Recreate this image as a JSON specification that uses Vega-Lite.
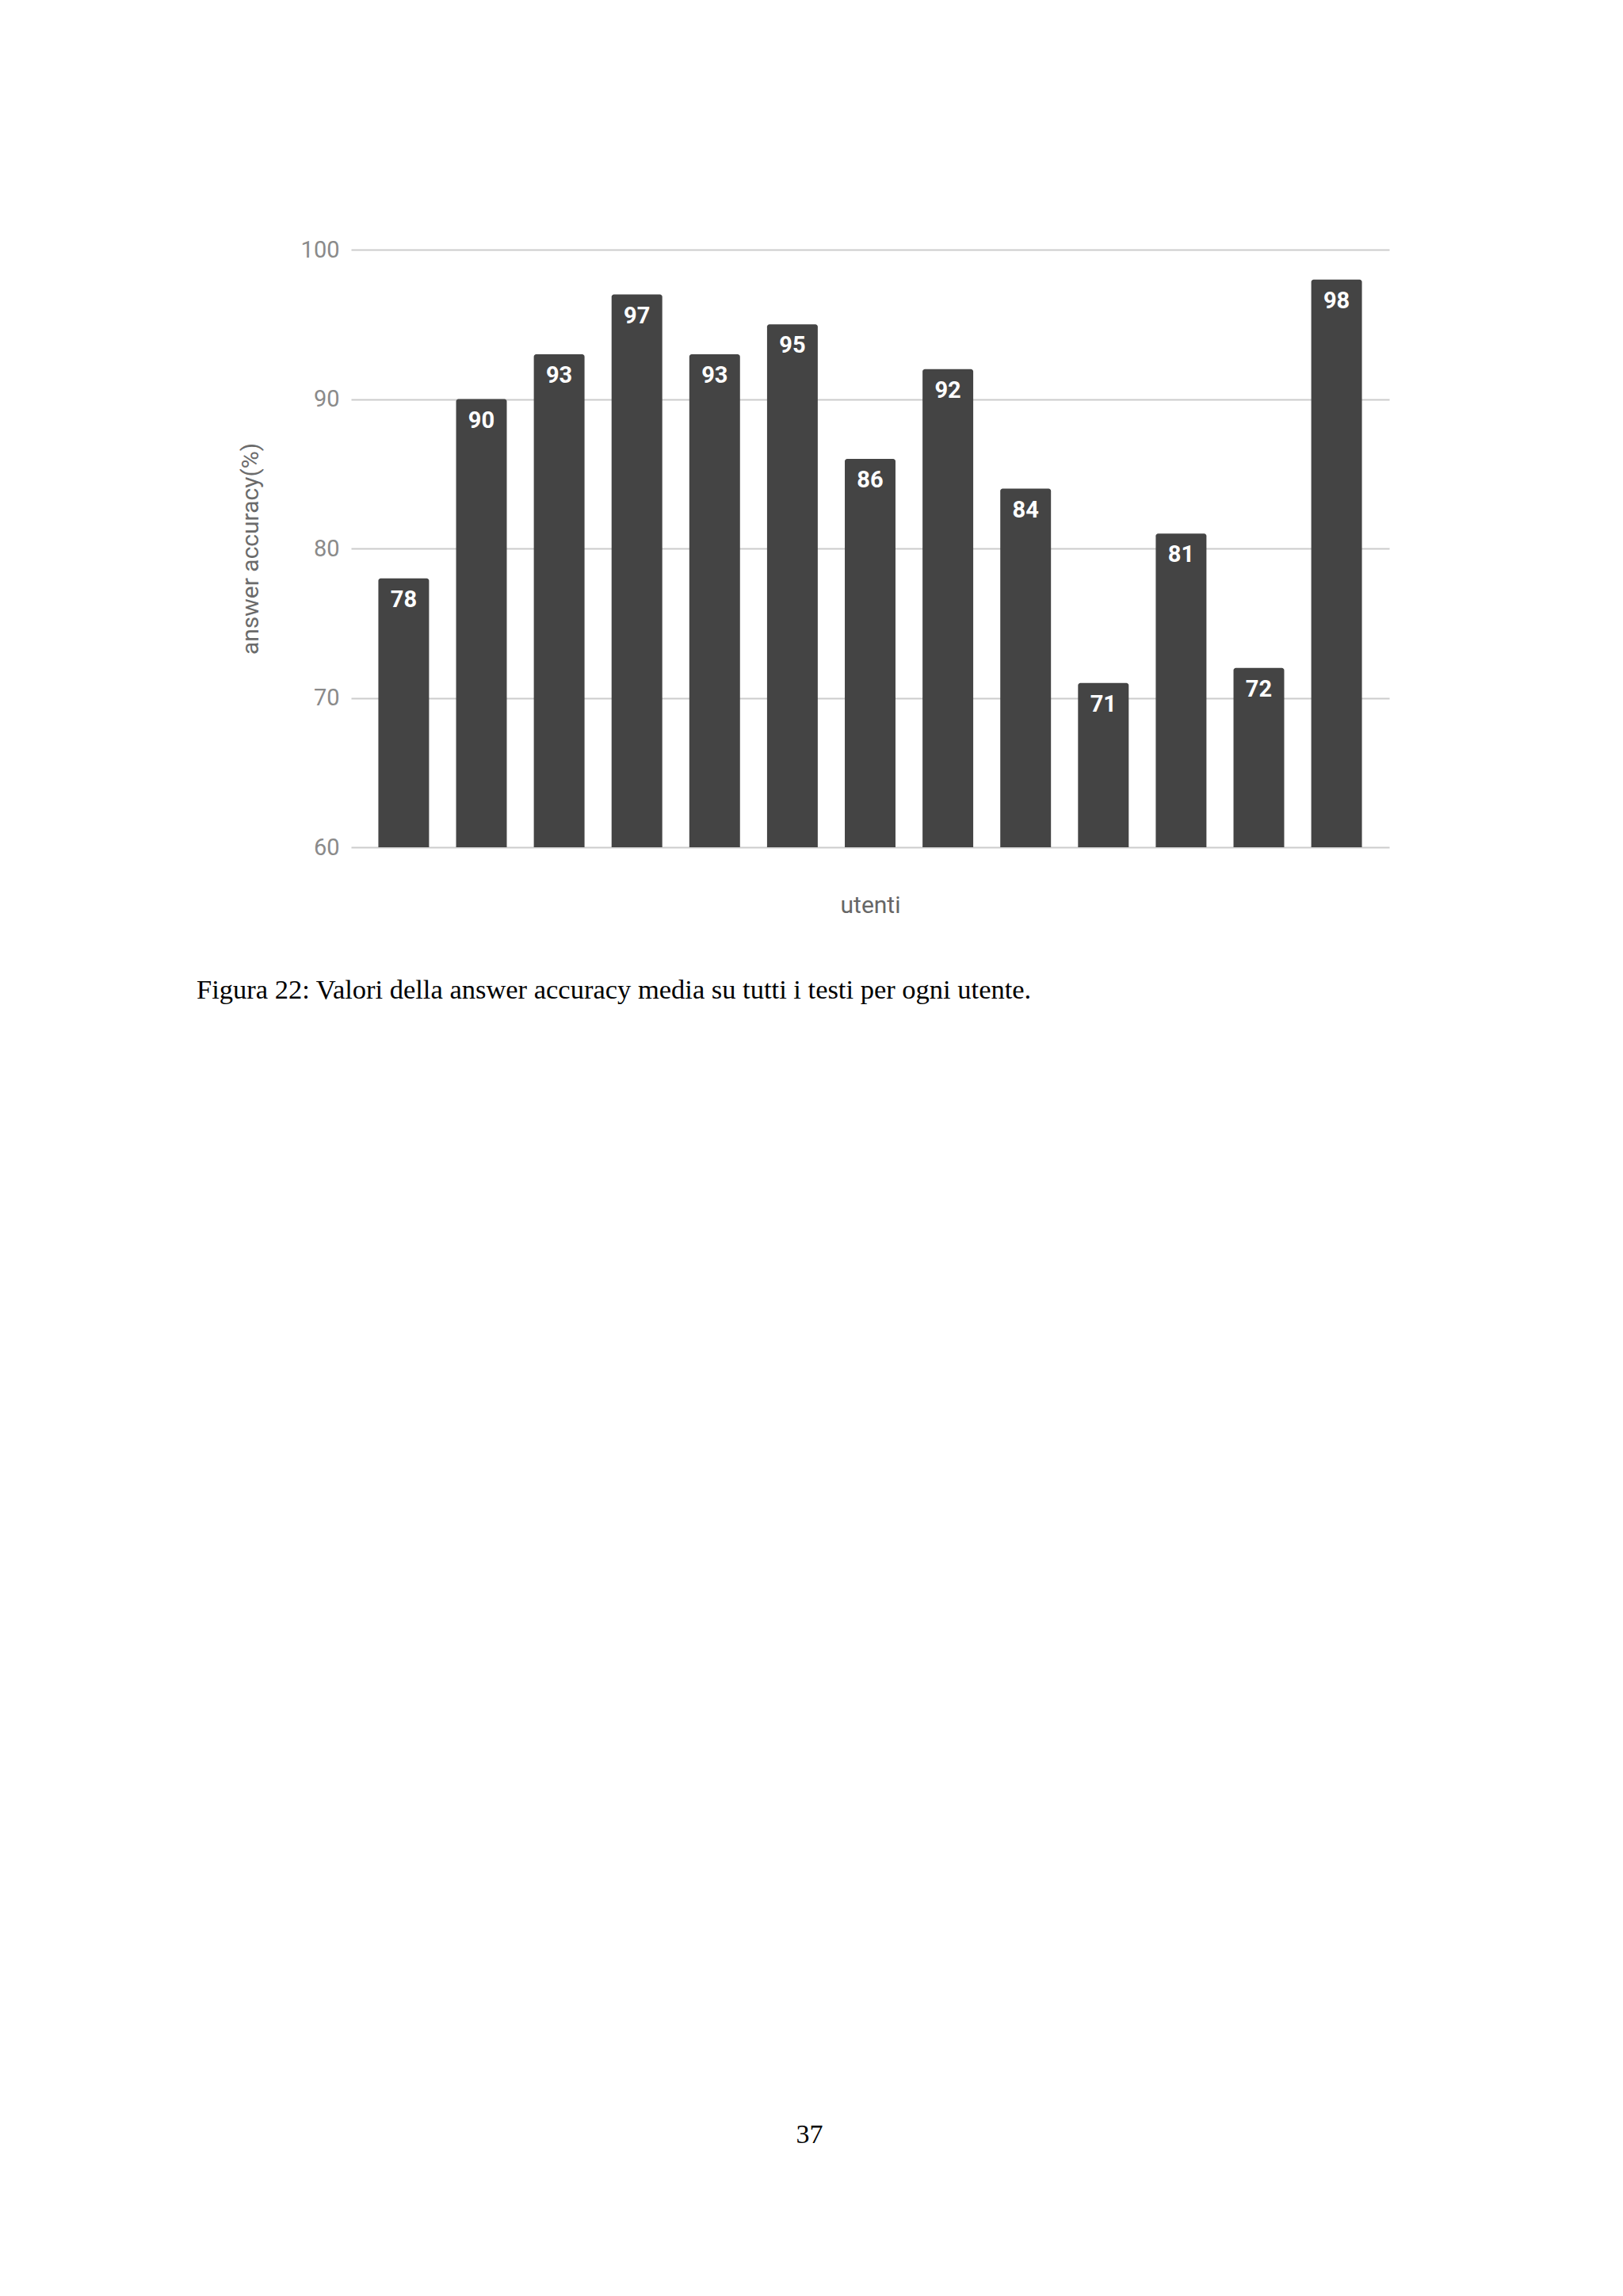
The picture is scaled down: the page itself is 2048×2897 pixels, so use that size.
{
  "$schema": "https://vega.github.io/schema/vega-lite/v6.json",
  "autosize": "none",
  "width": 1310,
  "height": 754,
  "padding": {"left": 443, "top": 315, "right": 295, "bottom": 1828},
  "background": "white",
  "title": {
    "text": "Figura 22: Valori della answer accuracy media su tutti i testi per ogni utente.",
    "subtitle": "\u200b\u00a0\u00a0\u00a0\u00a0\u00a0\u00a0\u00a0\u00a0\u00a0\u00a0\u00a0\u00a0\u00a0\u00a0\u00a0\u00a0\u00a0\u00a0\u00a0\u00a0\u00a0\u00a0\u00a0\u00a0\u00a0\u00a0\u00a0\u00a0\u00a0\u00a0\u00a0\u00a0\u00a0\u00a0\u00a0\u00a0\u00a0\u00a0\u00a0\u00a0\u00a0\u00a0\u00a0\u00a0\u00a0\u00a0\u00a0\u00a0\u00a0\u00a0\u00a0\u00a0\u00a0\u00a0\u00a0\u00a0\u00a0\u00a0\u00a0\u00a0\u00a0\u00a0\u00a0\u00a0\u00a0\u00a0\u00a0\u00a0\u00a0\u00a0\u00a0\u00a0\u00a0\u00a0\u00a0\u00a0\u00a0\u00a0\u00a0\u00a0\u00a0\u00a0\u00a0\u00a0\u00a0\u00a0\u00a0\u00a0\u2005\u200b37",
    "orient": "bottom",
    "anchor": "start",
    "frame": "group",
    "dx": -195,
    "offset": 76,
    "font": "Liberation Serif",
    "fontSize": 34.5,
    "fontWeight": "normal",
    "color": "black",
    "subtitleFont": "Liberation Serif",
    "subtitleFontSize": 34,
    "subtitleColor": "black",
    "subtitlePadding": 1409
  },
  "data": {
    "values": [
      {"utente": "1", "accuracy": 78},
      {"utente": "2", "accuracy": 90},
      {"utente": "3", "accuracy": 93},
      {"utente": "4", "accuracy": 97},
      {"utente": "5", "accuracy": 93},
      {"utente": "6", "accuracy": 95},
      {"utente": "7", "accuracy": 86},
      {"utente": "8", "accuracy": 92},
      {"utente": "9", "accuracy": 84},
      {"utente": "10", "accuracy": 71},
      {"utente": "11", "accuracy": 81},
      {"utente": "12", "accuracy": 72},
      {"utente": "13", "accuracy": 98}
    ]
  },
  "encoding": {
    "x": {
      "field": "utente", "type": "ordinal", "sort": null,
      "scale": {"paddingInner": 0.348, "paddingOuter": 0.351},
      "axis": {
        "title": "utenti", "labels": false, "ticks": false, "domain": false,
        "titleFont": "Roboto", "titleFontSize": 30, "titleFontWeight": "normal",
        "titleColor": "#666666", "titlePadding": 58
      }
    },
    "y": {
      "field": "accuracy", "type": "quantitative",
      "scale": {"domain": [60, 100], "nice": false, "zero": false},
      "axis": {
        "title": "answer accuracy(%)", "values": [60, 70, 80, 90, 100],
        "ticks": false, "domain": false, "labelPadding": 15,
        "labelFont": "Roboto", "labelFontSize": 29, "labelColor": "#8a8a8a",
        "gridColor": "#cccccc", "gridWidth": 2,
        "titleFont": "Roboto", "titleFontSize": 30, "titleFontWeight": "normal",
        "titleColor": "#6b6b6b", "titlePadding": 48
      }
    }
  },
  "layer": [
    {
      "mark": {"type": "bar", "color": "#444444", "cornerRadiusTopLeft": 3, "cornerRadiusTopRight": 3},
      "encoding": {"y2": {"datum": 60}}
    },
    {
      "mark": {"type": "text", "color": "white", "font": "Roboto", "fontWeight": "bold", "fontSize": 29, "baseline": "middle", "dy": 27},
      "encoding": {"text": {"field": "accuracy", "type": "quantitative"}}
    }
  ],
  "config": {"view": {"stroke": null}}
}
